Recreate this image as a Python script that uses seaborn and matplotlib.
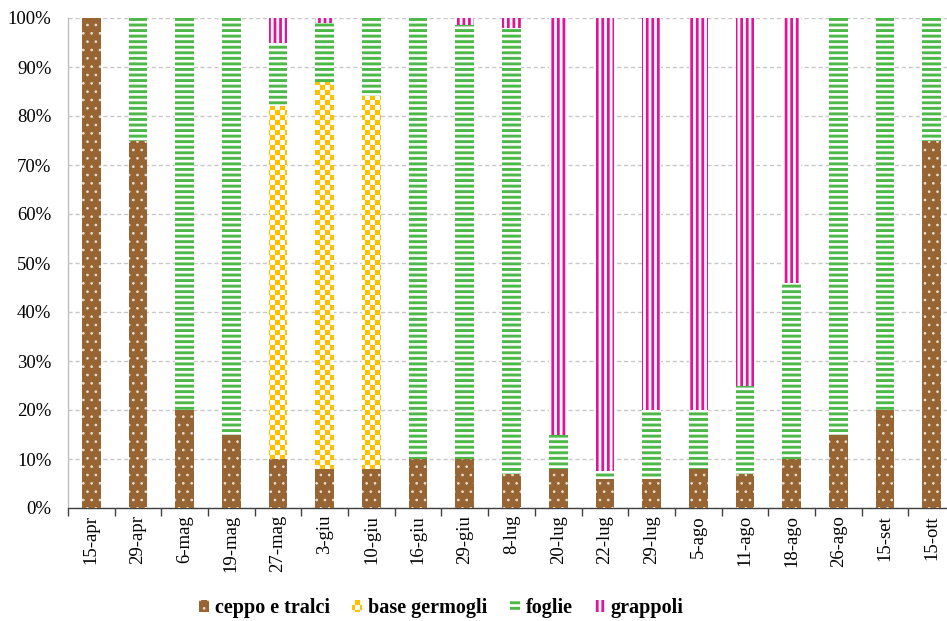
import warnings
import numpy as np
import pandas as pd
import matplotlib
matplotlib.use("Agg")
import matplotlib.pyplot as plt
import matplotlib.hatch as mhatch
import matplotlib.patches as mpatches
from matplotlib.path import Path
from matplotlib.ticker import PercentFormatter, FixedLocator
import seaborn as sns

warnings.filterwarnings("ignore")

# Share of each plant organ over the season (%)
dates = ["15-apr", "29-apr", "6-mag", "19-mag", "27-mag", "3-giu", "10-giu",
         "16-giu", "29-giu", "8-lug", "20-lug", "22-lug", "29-lug", "5-ago",
         "11-ago", "18-ago", "26-ago", "15-set", "15-ott"]
ceppo = [100, 75, 20, 15, 10, 8, 8, 10, 10, 7, 8, 6, 6, 8, 7, 10, 15, 20, 75]
base_germogli = [0, 0, 0, 0, 72, 79, 76, 0, 0, 0, 0, 0, 0, 0, 0, 0, 0, 0, 0]
foglie = [0, 25, 80, 85, 13, 12, 16, 90, 88.5, 91, 7, 1.5, 14, 12, 18, 36, 85, 80, 25]
grappoli = [0, 0, 0, 0, 5, 1, 0, 0, 1.5, 2, 85, 92.5, 80, 80, 75, 54, 0, 0, 0]

series_names = ["ceppo e tralci", "base germogli", "foglie", "grappoli"]


class CheckerHatch(mhatch.HatchPatternBase):
    """Checkerboard fill pattern, selected with the 'c' hatch character."""

    def __init__(self, hatch, density):
        self.cells = hatch.count("c") * 10
        self.num_vertices = (self.cells ** 2 // 2) * 5 if self.cells else 0

    def set_vertices_and_codes(self, vertices, codes):
        step = 1.0 / self.cells
        k = 0
        for i in range(self.cells):
            for j in range(self.cells):
                if (i + j) % 2:
                    continue
                x0, y0 = i * step, j * step
                vertices[k:k + 5] = [(x0, y0), (x0 + step, y0),
                                     (x0 + step, y0 + step), (x0, y0 + step),
                                     (x0, y0)]
                codes[k] = Path.MOVETO
                codes[k + 1:k + 4] = Path.LINETO
                codes[k + 4] = Path.CLOSEPOLY
                k += 5


mhatch._hatch_types.append(CheckerHatch)

sns.set_style("white")
plt.rcParams["font.family"] = ["Liberation Serif", "DejaVu Serif"]
plt.rcParams["text.color"] = "black"

# style per series: face colour, hatch colour, hatch, hatch line width
styles = {
    "ceppo e tralci": dict(face="#976433", hcol="#ecdfcf", hatch="..", hlw=0.7),
    "base germogli": dict(face="white", hcol="#ffc000", hatch="cc", hlw=0.1),
    "foglie": dict(face="white", hcol="#4cb848", hatch="---", hlw=2.1),
    "grappoli": dict(face="white", hcol="#e0139b", hatch="|||", hlw=2.0),
}

df = pd.DataFrame({"data": dates, "ceppo e tralci": ceppo,
                   "base germogli": base_germogli, "foglie": foglie,
                   "grappoli": grappoli})

fig = plt.figure(figsize=(9.47, 6.21), dpi=100)
ax = fig.add_axes([68 / 947, 113 / 621, (955 - 68) / 947, 490 / 621])

bottom = np.zeros(len(dates))
for name in series_names:
    st = styles[name]
    with plt.rc_context({"hatch.linewidth": st["hlw"]}):
        sns.barplot(data=df, x="data", y=name, order=dates, bottom=bottom,
                    color=st["face"], facecolor=st["face"],
                    edgecolor=st["hcol"], linewidth=0, hatch=st["hatch"],
                    width=0.4, errorbar=None, ax=ax, zorder=3)
    for p in ax.containers[-1]:
        if hasattr(p, "set_hatch_linewidth"):
            p.set_hatch_linewidth(st["hlw"])
    bottom = bottom + df[name].to_numpy()

ax.set_ylim(0, 100)
ax.set_xlim(-0.5, len(dates) - 0.5)
ax.yaxis.set_major_locator(FixedLocator(np.arange(0, 101, 10)))
ax.yaxis.set_major_formatter(PercentFormatter(decimals=0))
ax.set_xlabel("")
ax.set_ylabel("")

ax.grid(axis="y", color="#c8c8c8", linestyle=(0, (3, 2)), linewidth=1.0, zorder=0)
ax.grid(axis="x", visible=False)
ax.set_axisbelow(True)

for s in ["top", "right"]:
    ax.spines[s].set_visible(False)
ax.spines["left"].set_color("#bfbfbf")
ax.spines["left"].set_linewidth(1.0)
ax.spines["bottom"].set_color("#404040")
ax.spines["bottom"].set_linewidth(1.0)

ax.tick_params(axis="y", length=0, pad=12, labelsize=13.5, labelcolor="black")
ax.tick_params(axis="x", which="major", length=0, pad=5, labelsize=13.5,
               labelcolor="black", labelrotation=90)
ax.set_xticks(np.arange(-0.5, len(dates), 1.0), minor=True)
ax.tick_params(axis="x", which="minor", length=6, width=1.0, color="#404040",
               direction="out", bottom=True)

handles = []
for name in series_names:
    st = styles[name]
    handles.append(mpatches.Patch(facecolor=st["face"], edgecolor=st["hcol"],
                                  hatch=st["hatch"], linewidth=0, label=name))
leg = fig.legend(handles=handles, loc="center", bbox_to_anchor=(0.466, 0.021),
                 ncol=4, frameon=False, prop={"weight": "bold", "size": 14.5},
                 handlelength=0.5, handleheight=0.5, handletextpad=0.3,
                 columnspacing=1.1, borderaxespad=0)
for h, name in zip(leg.legend_handles, series_names):
    if hasattr(h, "set_hatch_linewidth"):
        h.set_hatch_linewidth(styles[name]["hlw"])

fig.savefig("out.png", dpi=100)
